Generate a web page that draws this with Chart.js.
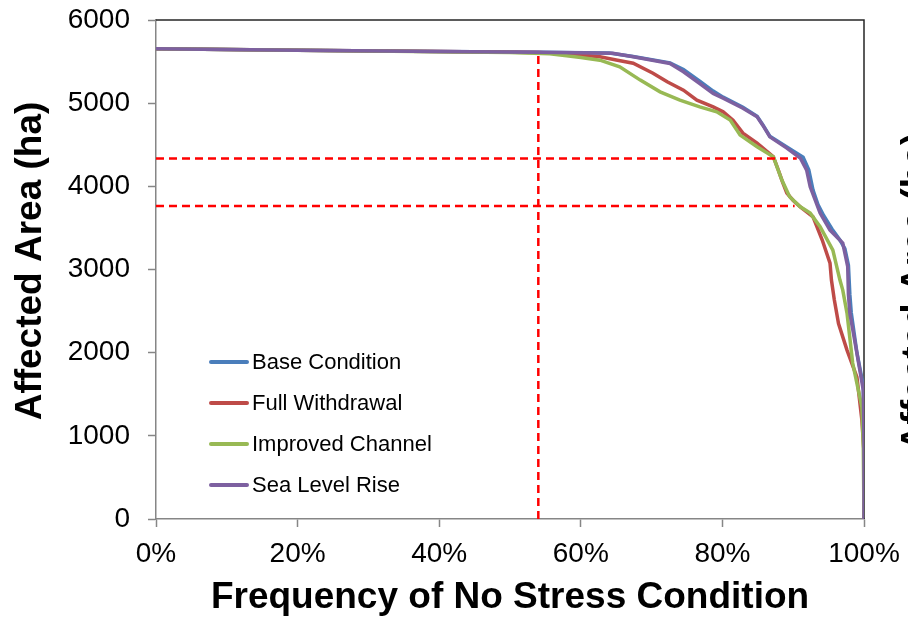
<!DOCTYPE html>
<html>
<head>
<meta charset="utf-8">
<script src="https://cdn.jsdelivr.net/npm/chart.js@4.4.1/dist/chart.umd.min.js"></script>
<style>
  html, body { margin: 0; padding: 0; background: #fff; }
</style>
</head>
<body>
<canvas id="chart" width="908" height="622"></canvas>
<script>
// x = frequency of no stress condition (%), y = affected area (ha)
const seriesNames = ['Base Condition', 'Full Withdrawal', 'Improved Channel', 'Sea Level Rise'];
const seriesColors = ['#4a7ebb', '#be4b48', '#98b954', '#7d60a0'];

const baseCondition = [[0,5655],[20,5636],[40,5622],[54,5612],[64,5602],[67.4,5562],[72.6,5485],[74.5,5405],[76.8,5265],[78.7,5145],[80.1,5072],[82.9,4952],[84.9,4842],[85.7,4742],[86.7,4602],[89.1,4472],[91.4,4350],[92.2,4200],[92.8,3955],[93.5,3780],[94.3,3650],[95.5,3485],[96.6,3354],[97.3,3250],[97.8,3050],[98,2700],[98.2,2480],[99,2000],[99.9,1600],[100,1000],[100,0]];
const fullWithdrawal = [[0,5655],[20,5635],[40,5620],[54,5610],[58,5595],[60.3,5577],[62.7,5557],[65,5520],[67.4,5480],[70.2,5360],[72.2,5257],[74.5,5156],[76.4,5036],[78.7,4956],[80.1,4896],[81.5,4796],[82.9,4640],[84.9,4520],[87.2,4355],[87.9,4195],[88.5,4050],[89.1,3918],[90,3830],[91,3754],[92.8,3634],[94.1,3354],[95.2,3077],[95.4,2873],[95.8,2640],[96.4,2350],[97.6,2031],[99,1707],[99.7,1190],[100,800],[100,0]];
const improvedChannel = [[0,5655],[20,5635],[40,5618],[50,5608],[55.6,5595],[58,5570],[60,5550],[62.7,5517],[65.5,5437],[68.4,5277],[71.2,5136],[74,5036],[76.8,4956],[79.2,4896],[81.1,4796],[82.5,4616],[84.9,4476],[87.2,4355],[88.4,4075],[89.5,3874],[91,3754],[92.4,3678],[93.8,3514],[95.6,3233],[96.6,2873],[97,2752],[97.6,2476],[98.4,1875],[99.7,1346],[99.9,865],[100,0]];
const seaLevelRise = [[0,5655],[20,5635],[40,5621],[54,5611],[64.5,5600],[67.4,5557],[72.6,5477],[74.5,5377],[76.8,5237],[78.7,5117],[80.1,5060],[82.9,4940],[84.9,4836],[85.7,4735],[86.7,4595],[89.1,4460],[91,4340],[91.9,4195],[92.4,3995],[93.8,3678],[95.2,3474],[97,3317],[97.7,3033],[97.8,2700],[98,2476],[99,1995],[99.9,1550],[100,900],[100,0]];

// red dashed reference lines
const markerVertical = [[54,0],[54,5603]];
const markerUpper = [[0,4335],[90.5,4335]];
const markerLower = [[0,3765],[90.2,3765]];

const xTicks = [0, 20, 40, 60, 80, 100];
const yTicks = [0, 1000, 2000, 3000, 4000, 5000, 6000];
const yTitle = 'Affected Area (ha)';
const xTitle = 'Frequency of No Stress Condition';

const toPts = arr => arr.map(p => ({x: p[0], y: p[1]}));
const fontFamily = "'Liberation Sans', Arial, sans-serif";

const curveData = [baseCondition, fullWithdrawal, improvedChannel, seaLevelRise];
const datasets = curveData.map((arr, i) => ({
    label: seriesNames[i],
    data: toPts(arr),
    borderColor: seriesColors[i],
    borderWidth: 3.5,
    pointRadius: 0,
    tension: 0,
    order: 4 - i
}));
[markerVertical, markerUpper, markerLower].forEach(arr => {
    datasets.push({
        label: '',
        data: toPts(arr),
        borderColor: '#ff0000',
        borderWidth: 2.5,
        borderDash: [8, 5],
        pointRadius: 0,
        order: 0
    });
});

const extras = {
    id: 'extras',
    beforeDatasetsDraw(chart) {
        const {ctx, chartArea: a} = chart;
        ctx.save();
        ctx.strokeStyle = '#262626';
        ctx.lineWidth = 1.5;
        ctx.beginPath();
        ctx.moveTo(a.left, a.top);
        ctx.lineTo(a.right, a.top);
        ctx.lineTo(a.right, a.bottom);
        ctx.stroke();
        ctx.restore();
    },
    afterDraw(chart) {
        const ctx = chart.ctx;
        ctx.save();
        // legend inside plot
        ctx.font = '22px ' + fontFamily;
        ctx.textBaseline = 'middle';
        ctx.textAlign = 'left';
        seriesNames.forEach((name, i) => {
            const y = 362 + i * 41;
            ctx.strokeStyle = seriesColors[i];
            ctx.lineWidth = 4;
            ctx.lineCap = 'round';
            ctx.beginPath();
            ctx.moveTo(211, y);
            ctx.lineTo(247, y);
            ctx.stroke();
            ctx.fillStyle = '#000';
            ctx.fillText(name, 252, y + 1);
        });
        ctx.fillStyle = '#000';
        ctx.font = 'bold 37px ' + fontFamily;
        ctx.textAlign = 'center';
        // left axis title
        ctx.save();
        ctx.translate(31, 261);
        ctx.rotate(-Math.PI / 2);
        ctx.textBaseline = 'middle';
        ctx.fillText(yTitle, 0, 0);
        ctx.restore();
        // second axis title, cut off at the right edge
        ctx.translate(898, 292);
        ctx.rotate(-Math.PI / 2);
        ctx.textBaseline = 'top';
        ctx.fillText(yTitle, 0, 0);
        ctx.restore();
    }
};

new Chart(document.getElementById('chart').getContext('2d'), {
    type: 'line',
    data: { datasets: datasets },
    options: {
        responsive: false,
        animation: false,
        layout: { padding: { left: 0, right: 44, top: 20, bottom: 0 } },
        scales: {
            x: {
                type: 'linear',
                min: 0,
                max: 100,
                afterFit: s => { s.height = 103; s.paddingLeft = 0; s.paddingRight = 0; },
                afterBuildTicks: s => { s.ticks = xTicks.map(v => ({value: v})); },
                ticks: {
                    callback: v => v + '%',
                    color: '#000',
                    padding: 10,
                    maxRotation: 0,
                    font: { family: fontFamily, size: 28 }
                },
                grid: { drawOnChartArea: false, drawTicks: true, tickLength: 8, tickColor: '#868686', tickWidth: 1.5 },
                border: { color: '#868686', width: 1.5 },
                title: {
                    display: true,
                    text: xTitle,
                    color: '#000',
                    padding: { top: 0, bottom: 2 },
                    font: { family: fontFamily, size: 37, weight: 'bold' }
                }
            },
            y: {
                min: 0,
                max: 6000,
                afterFit: s => { s.width = 156; s.paddingTop = 0; s.paddingBottom = 0; },
                afterBuildTicks: s => { s.ticks = yTicks.map(v => ({value: v})); },
                ticks: {
                    callback: v => String(v),
                    color: '#000',
                    padding: 18,
                    font: { family: fontFamily, size: 28 }
                },
                grid: { drawOnChartArea: false, drawTicks: true, tickLength: 8, tickColor: '#868686', tickWidth: 1.5 },
                border: { color: '#868686', width: 1.5 }
            }
        },
        plugins: {
            legend: { display: false },
            tooltip: { enabled: false }
        }
    },
    plugins: [extras]
});
</script>
</body>
</html>
